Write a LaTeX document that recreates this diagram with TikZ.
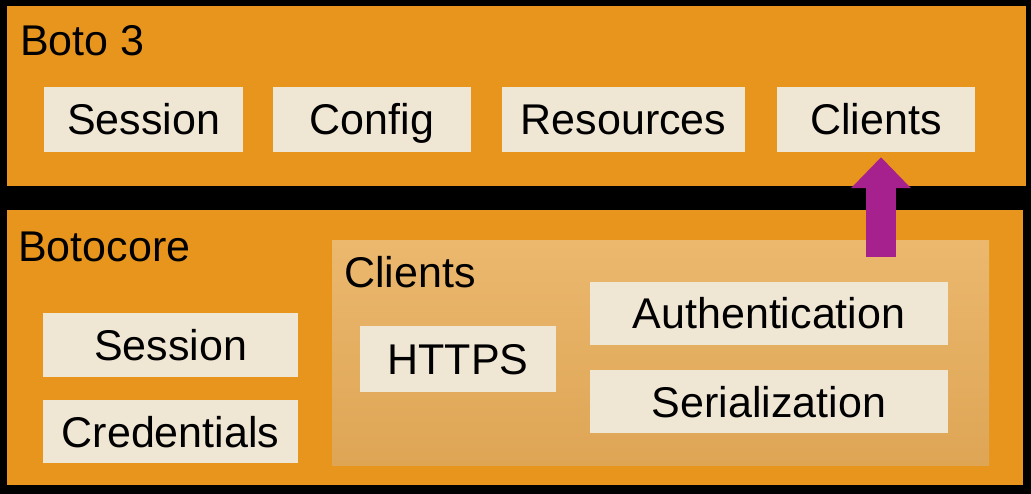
\documentclass[tikz,border=0pt]{standalone}
\usepackage{fontspec}
\setmainfont{Liberation Sans}
\usetikzlibrary{arrows.meta}
\definecolor{botoOrange}{RGB}{232,149,30}
\definecolor{boxCream}{RGB}{240,230,212}
\definecolor{panelTop}{RGB}{235,184,110}
\definecolor{panelBottom}{RGB}{222,165,85}
\definecolor{arrowPurple}{RGB}{166,33,142}

\begin{document}
\begin{tikzpicture}[x=1pt, y=-1pt, font=\fontsize{43}{46}\selectfont,
	    layer/.style={rectangle, fill=botoOrange, inner sep=0pt, anchor=north west},
	    panel/.style={rectangle, top color=panelTop, bottom color=panelBottom, inner sep=0pt, anchor=north west},
	    block/.style={rectangle, fill=boxCream, inner sep=0pt, text height=31pt, text depth=0pt, minimum height=65pt},
	    title/.style={inner sep=0pt, anchor=west, text height=31pt, text depth=0pt},
	    line/.style={draw=arrowPurple, line width=30pt, -{Triangle[length=31pt, width=58pt]}}]

	    \fill[black] (0,0) rectangle (1031,494);

	    % boto3 layer
	    \node [layer, minimum width=1019pt, minimum height=180pt] (boto) at (7,6) {};
	    \node [title] (botoTitle) at (20,40) {Boto 3};
	    \node [block, minimum width=199pt] (sessionA) at (143.5,119.5) {Session};
	    \node [block, minimum width=198pt] (config) at (372,119.5) {Config};
	    \node [block, minimum width=243pt] (resources) at (623.5,119.5) {Resources};
	    \node [block, minimum width=198pt] (clientsA) at (876,119.5) {Clients};

	    % botocore layer
	    \node [layer, minimum width=1016pt, minimum height=275pt] (core) at (7,210) {};
	    \node [title] (coreTitle) at (18,246) {Botocore};
	    \node [block, minimum width=255pt, minimum height=64pt] (sessionB) at (170.5,345) {Session};
	    \node [block, minimum width=255pt, minimum height=63pt] (credentials) at (170.5,431.5) {Credentials};

	    \node [panel, minimum width=657pt, minimum height=225pt] (clientsB) at (332,240) {};
	    \node [title] (clientsTitle) at (344,272) {Clients};
	    \node [block, minimum width=196pt, minimum height=66pt] (https) at (458,359) {HTTPS};
	    \node [block, minimum width=358pt, minimum height=63pt] (auth) at (769,313.5) {Authentication};
	    \node [block, minimum width=358pt, minimum height=63pt] (serial) at (769,401.5) {Serialization};

	    \coordinate (arrowFoot) at (881,257);
	    \path [line] (arrowFoot) -- ([yshift=-5pt]clientsA.south -| arrowFoot);
\end{tikzpicture}
\end{document}
